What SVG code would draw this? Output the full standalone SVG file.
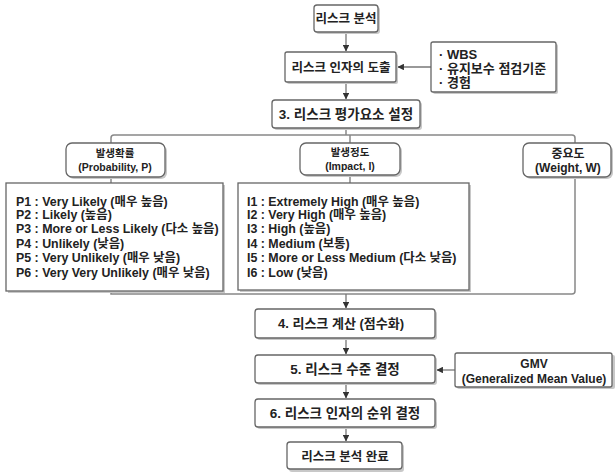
<svg xmlns="http://www.w3.org/2000/svg" width="616" height="472" viewBox="0 0 616 472">
<defs>
<marker id="ah" viewBox="0 0 6 6" refX="5.5" refY="3" markerWidth="5" markerHeight="5" orient="auto">
<path d="M0,0 L6,3 L0,6 z" fill="#333"/>
</marker>
<style>
.box{fill:#fff;stroke:#666;stroke-width:1.3}
.sh{fill:#c8c8c8;stroke:none}
.t{font-family:"Liberation Sans","Noto Sans CJK KR",sans-serif;font-size:13px;font-weight:bold;fill:#222}
.l{font-size:12.4px}
.s{font-size:10.5px}
.c{text-anchor:middle}
.ln{fill:none;stroke:#888;stroke-width:1.5}
.ar{fill:none;stroke:#777;stroke-width:1.3;marker-end:url(#ah)}
</style>
</defs>
<rect width="616" height="472" fill="#fff"/>
<g id="connectors">
<line class="ar" x1="346" y1="33" x2="346" y2="51"/>
<line class="ar" x1="431" y1="67" x2="398" y2="67"/>
<line class="ar" x1="346" y1="83" x2="346" y2="99"/>
<line class="ln" x1="346" y1="129" x2="346" y2="135"/>
<path class="ln" d="M111,143 V138 Q111,135 114,135 H572 Q575,135 575,138 V143"/>
<line class="ln" x1="350" y1="135" x2="350" y2="143"/>
<line class="ln" x1="111" y1="178" x2="111" y2="183"/>
<line class="ln" x1="350" y1="176" x2="350" y2="183"/>
<path class="ln" d="M111,291 V294 H572 Q575,294 575,291 V178"/>
<line class="ar" x1="346" y1="294" x2="346" y2="308"/>
<line class="ar" x1="346" y1="339" x2="346" y2="354"/>
<line class="ar" x1="455" y1="370" x2="437" y2="370"/>
<line class="ar" x1="346" y1="384" x2="346" y2="398"/>
<line class="ar" x1="346" y1="428" x2="346" y2="441"/>
</g>
<g id="n_start">
<rect class="sh" x="316" y="7" width="64" height="27" rx="3"/>
<rect class="box" x="314" y="5" width="64" height="27" rx="3"/>
<text class="t c" x="346" y="23" style="font-size:12.5px">리스크 분석</text>
</g>
<g id="n_factor">
<rect class="sh" x="287" y="54" width="111" height="30" rx="2"/>
<rect class="box" x="285" y="52" width="111" height="30" rx="2"/>
<text class="t c" x="341" y="72" style="font-size:12.5px">리스크 인자의 도출</text>
</g>
<g id="n_source">
<rect class="sh" x="433" y="44" width="125" height="50" rx="2"/>
<rect class="box" x="431" y="42" width="125" height="50" rx="2"/>
<text class="t" x="439" y="59">· WBS</text>
<text class="t" x="439" y="73">· 유지보수 점검기준</text>
<text class="t" x="439" y="87">· 경험</text>
</g>
<g id="n_set">
<rect class="sh" x="274" y="102" width="148" height="28" rx="3"/>
<rect class="box" x="272" y="100" width="148" height="28" rx="3"/>
<text class="t c" x="346" y="119" style="font-size:13.5px">3. 리스크 평가요소 설정</text>
</g>
<g id="n_prob">
<rect class="sh" x="68" y="145" width="99" height="34" rx="6"/>
<rect class="box" x="66" y="143" width="99" height="34" rx="6"/>
<text class="t s c" x="115" y="157">발생확률</text>
<text class="t s c" x="115" y="171">(Probability, P)</text>
</g>
<g id="n_impact">
<rect class="sh" x="302" y="145" width="100" height="32" rx="6"/>
<rect class="box" x="300" y="143" width="100" height="32" rx="6"/>
<text class="t s c" x="350" y="156">발생정도</text>
<text class="t s c" x="350" y="170">(Impact, I)</text>
</g>
<g id="n_weight">
<rect class="sh" x="525" y="145" width="88" height="34" rx="6"/>
<rect class="box" x="523" y="143" width="88" height="34" rx="6"/>
<text class="t c" x="568" y="158" style="font-size:12px">중요도</text>
<text class="t c" x="568" y="172" style="font-size:12px">(Weight, W)</text>
</g>
<g id="n_plist">
<rect class="sh" x="8" y="185" width="217" height="108"/>
<rect class="box" x="6" y="183" width="217" height="108"/>
<text class="t l" x="16" y="206">P1 : Very Likely (매우 높음)</text>
<text class="t l" x="16" y="219">P2 : Likely (높음)</text>
<text class="t l" x="16" y="233">P3 : More or Less Likely (다소 높음)</text>
<text class="t l" x="16" y="248">P4 : Unlikely (낮음)</text>
<text class="t l" x="16" y="262">P5 : Very Unlikely (매우 낮음)</text>
<text class="t l" x="16" y="277">P6 : Very Very Unlikely (매우 낮음)</text>
</g>
<g id="n_ilist">
<rect class="sh" x="240" y="185" width="231" height="107"/>
<rect class="box" x="238" y="183" width="231" height="107"/>
<text class="t l" x="247" y="206">I1 : Extremely High (매우 높음)</text>
<text class="t l" x="247" y="219">I2 : Very High (매우 높음)</text>
<text class="t l" x="247" y="233">I3 : High (높음)</text>
<text class="t l" x="247" y="248">I4 : Medium (보통)</text>
<text class="t l" x="247" y="262">I5 : More or Less Medium (다소 낮음)</text>
<text class="t l" x="247" y="277">I6 : Low (낮음)</text>
</g>
<g id="n_calc">
<rect class="sh" x="257" y="311" width="180" height="29" rx="3"/>
<rect class="box" x="255" y="309" width="180" height="29" rx="3"/>
<text class="t c" x="341" y="328">4. 리스크 계산 (점수화)</text>
</g>
<g id="n_level">
<rect class="sh" x="257" y="357" width="180" height="28" rx="3"/>
<rect class="box" x="255" y="355" width="180" height="28" rx="3"/>
<text class="t c" x="345" y="374" style="font-size:13.5px">5. 리스크 수준 결정</text>
</g>
<g id="n_gmv">
<rect class="sh" x="457" y="355" width="158" height="34" rx="2"/>
<rect class="box" x="455" y="353" width="157" height="34" rx="2"/>
<text class="t c" x="534" y="368" style="font-size:12px">GMV</text>
<text class="t c" x="534" y="383" style="font-size:12px">(Generalized Mean Value)</text>
</g>
<g id="n_rank">
<rect class="sh" x="257" y="401" width="180" height="28" rx="3"/>
<rect class="box" x="255" y="399" width="180" height="28" rx="3"/>
<text class="t c" x="345" y="418" style="font-size:13.5px">6. 리스크 인자의 순위 결정</text>
</g>
<g id="n_end">
<rect class="sh" x="289" y="444" width="115" height="28" rx="3"/>
<rect class="box" x="287" y="442" width="115" height="27" rx="3"/>
<text class="t c" x="345" y="461" style="font-size:12.5px">리스크 분석 완료</text>
</g>
</svg>
